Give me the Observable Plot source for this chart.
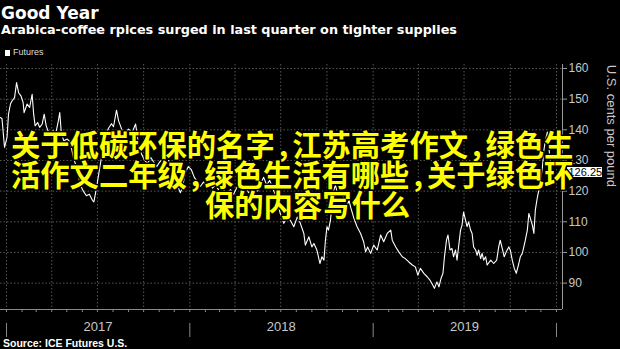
<!DOCTYPE html>
<html><head><meta charset="utf-8">
<script src="https://cdn.jsdelivr.net/npm/d3@7"></script>
<script src="https://cdn.jsdelivr.net/npm/@observablehq/plot@0.6"></script>
<style>
html,body{margin:0;padding:0;background:#000;}
#wrap{position:relative;width:620px;height:349px;overflow:hidden;background:#000;}
#chart{position:absolute;left:0;top:0;}
.t{position:absolute;white-space:nowrap;line-height:1;color:#fff;}
#title{left:1px;top:5px;font-family:"DejaVu Sans";font-weight:bold;font-size:17px;}
#subtitle{left:1px;top:24.3px;font-family:"DejaVu Sans";font-weight:bold;font-size:12.8px;}
#legsq{position:absolute;left:5px;top:49.5px;width:5px;height:6px;background:#fff;}
#legend{left:13px;top:48px;font-family:"Liberation Sans";font-size:9px;color:#ddd;}
#source{left:3px;top:338px;font-family:"Liberation Sans";font-weight:bold;font-size:10.5px;}
#overlay{position:absolute;left:0;top:0;pointer-events:none;}
</style>
</head>
<body>
<div id="wrap">
  <div id="chart"></div>
  <div class="t" id="title">Good Year</div>
  <div class="t" id="subtitle">Arabica-coffee rpices surged in last quarter on tighter supplies</div>
  <div id="legsq"></div>
  <div class="t" id="legend">Futures</div>
  <div class="t" id="source">Source: ICE Futures U.S.</div>
  <svg id="overlay" width="620" height="349">
    <g font-family="'Noto Sans CJK SC'" font-size="29.3" font-weight="700" fill="#ffff00" stroke="#000" stroke-width="3" paint-order="stroke" stroke-linejoin="round">
      <text x="11" y="156">关于低碳环保的名字<tspan dx="4">,</tspan><tspan dx="4">江苏高考作文</tspan><tspan dx="4">,</tspan><tspan dx="4">绿色生</tspan></text>
      <text x="11" y="186">活作文二年级<tspan dx="4">,</tspan><tspan dx="4">绿色生活有哪些</tspan><tspan dx="4">,</tspan><tspan dx="4">关于绿色环</tspan></text>
      <text x="205" y="216">保的内容写什么</text>
    </g>
  </svg>
</div>
<script>
const dates = [
"2016-12-20","2016-12-23","2016-12-28","2017-01-02","2017-01-05","2017-01-09","2017-01-12","2017-01-17","2017-01-21","2017-01-25",
"2017-01-30","2017-02-03","2017-02-05","2017-02-11","2017-02-16","2017-02-21","2017-02-24","2017-02-27","2017-03-04","2017-03-08",
"2017-03-13","2017-03-17","2017-03-21","2017-03-26","2017-03-29","2017-04-04","2017-04-08","2017-04-13","2017-04-17","2017-04-20",
"2017-04-25","2017-05-02","2017-05-08","2017-05-14","2017-05-20","2017-05-28","2017-06-03","2017-06-09","2017-06-15","2017-06-21",
"2017-06-24","2017-06-29","2017-07-05","2017-07-11","2017-07-17","2017-07-23","2017-07-29","2017-08-02","2017-08-08","2017-08-12",
"2017-08-17","2017-08-22","2017-08-26","2017-09-01","2017-09-08","2017-09-15","2017-09-21","2017-09-27","2017-10-03","2017-10-09",
"2017-10-15","2017-10-21","2017-10-27","2017-11-02","2017-11-08","2017-11-14","2017-11-20","2017-11-26","2017-12-01","2017-12-07",
"2017-12-13","2017-12-17","2017-12-23","2017-12-29",
"2018-01-04","2018-01-10","2018-01-16","2018-01-22","2018-01-28","2018-02-03","2018-02-09","2018-02-15","2018-02-21","2018-02-27",
"2018-03-05","2018-03-11","2018-03-17","2018-03-23","2018-03-29","2018-04-04","2018-04-10","2018-04-16","2018-04-22","2018-04-28",
"2018-05-04","2018-05-10","2018-05-16","2018-05-22","2018-05-28","2018-06-03","2018-06-09","2018-06-15","2018-06-21","2018-06-25",
"2018-06-30","2018-07-07","2018-07-14","2018-07-20","2018-07-27","2018-08-03","2018-08-09","2018-08-16","2018-08-19","2018-08-26",
"2018-09-01","2018-09-05","2018-09-11","2018-09-17","2018-09-21","2018-09-25","2018-09-28","2018-10-01","2018-10-04","2018-10-08",
"2018-10-11","2018-10-14","2018-10-18","2018-10-22","2018-10-28","2018-11-03","2018-11-09","2018-11-14","2018-11-17","2018-11-23",
"2018-11-30","2018-12-07","2018-12-13","2018-12-17","2018-12-21","2018-12-27",
"2019-01-02","2019-01-09","2019-01-16","2019-01-22","2019-01-29","2019-02-05","2019-02-08","2019-02-15","2019-02-21","2019-02-28",
"2019-03-06","2019-03-13","2019-03-20","2019-03-26","2019-03-31","2019-04-05","2019-04-12","2019-04-19","2019-04-24","2019-04-28",
"2019-05-03","2019-05-08","2019-05-12","2019-05-16","2019-05-20","2019-05-23","2019-05-27","2019-05-30","2019-06-03","2019-06-07",
"2019-06-10","2019-06-14","2019-06-17","2019-06-20","2019-06-24","2019-06-27","2019-06-30","2019-07-04","2019-07-07","2019-07-10",
"2019-07-14","2019-07-17","2019-07-20","2019-07-24","2019-07-27","2019-07-30","2019-08-03","2019-08-06","2019-08-09","2019-08-13",
"2019-08-16","2019-08-23","2019-08-29","2019-09-04","2019-09-08","2019-09-11","2019-09-15","2019-09-19","2019-09-23","2019-09-28",
"2019-10-01","2019-10-05","2019-10-09","2019-10-13","2019-10-18","2019-10-21","2019-10-25","2019-10-28","2019-10-31","2019-11-04",
"2019-11-07","2019-11-10","2019-11-14","2019-11-17","2019-11-20","2019-11-24","2019-11-27","2019-11-30","2019-12-04","2019-12-07",
"2019-12-10","2019-12-14","2019-12-16","2019-12-18","2019-12-20","2019-12-22"
];
const prices = [
144.0,143.6,134.3,137.5,145.2,148.5,149.4,150.5,155.4,152.1,
151.0,148.9,145.6,148.4,147.3,151.6,145.1,141.3,142.4,140.8,
141.9,145.1,141.3,139.1,138.6,139.7,138.1,141.9,145.6,139.1,
136.4,137.0,136.0,131.0,128.0,122.0,120.0,118.5,119.0,117.0,
116.5,121.0,127.0,133.0,138.0,140.5,142.0,141.0,146.4,143.0,
140.8,138.0,139.1,140.2,139.1,141.9,135.0,132.0,130.0,129.0,
131.0,129.5,128.0,129.5,130.5,128.5,130.0,127.5,125.0,122.0,
119.5,121.0,126.0,128.0,
127.0,124.5,123.0,121.5,123.0,121.5,122.5,121.0,122.0,120.5,
121.5,120.0,119.5,120.5,119.0,121.0,122.5,120.5,121.5,119.5,
120.0,121.5,120.0,122.5,124.5,122.0,123.5,121.0,118.5,116.0,
112.7,109.5,111.6,110.5,108.4,111.6,109.5,106.2,102.4,105.1,
101.8,102.9,100.8,96.4,98.6,97.5,104.0,108.4,107.3,110.5,
116.0,120.0,122.0,119.0,120.5,118.0,115.0,117.0,114.9,111.5,
108.4,106.2,103.5,100.2,101.8,99.7,
102.4,100.8,105.7,103.5,106.2,107.3,104.0,101.8,100.2,98.6,
98.0,96.9,95.9,95.3,92.6,94.8,93.2,92.0,91.0,89.9,
88.3,90.4,88.8,91.5,93.2,98.6,104.0,105.7,100.8,101.3,
98.6,100.8,97.5,101.8,107.3,108.9,113.2,110.5,108.4,110.0,
107.3,106.2,101.8,100.8,99.1,100.8,98.0,99.7,97.5,98.6,
95.9,97.5,96.4,97.5,101.8,104.0,101.3,98.6,100.2,101.8,
100.8,97.5,94.8,93.2,96.4,98.6,99.7,101.8,104.0,107.3,
112.7,111.1,108.9,106.2,114.0,118.0,120.5,123.0,127.8,133.4,
136.6,139.3,135.6,132.4,130.0,126.25
];
const yTicks = [90, 100, 110, 120, 130, 140, 150, 160];
const yearLabels = ["2017", "2018", "2019"];
const yearMids = ["2017-07-02", "2018-07-02", "2019-07-02"];
const yearBounds = ["2017-01-01", "2018-01-01", "2019-01-01", "2020-01-01"];
const xDomain = ["2016-12-20", "2020-01-13"];
const yDomain = [81.4, 161.3];
const axisTitle = "U.S. cents per pound";

const data = dates.map((d, i) => ({date: new Date(d), price: prices[i]}));
const x0 = new Date(xDomain[0]), x1 = new Date(xDomain[1]);
const quarters = d3.utcMonth.every(3).range(new Date(yearBounds[0]), new Date("2020-01-02"));
const months = d3.utcMonth.range(new Date(yearBounds[0]), new Date("2020-01-02"));
const last = prices[prices.length - 1];
const grid = "#575757";
const narrow = "'Liberation Sans Narrow', 'Arial Narrow', 'Liberation Sans', sans-serif";

const chart = Plot.plot({
  width: 620, height: 349,
  marginTop: 64, marginBottom: 40, marginLeft: 0, marginRight: 58,
  style: {background: "transparent", color: "#c8c8c8", fontFamily: narrow, fontSize: "12px"},
  x: {type: "utc", domain: [x0, x1], axis: null, label: null},
  y: {domain: yDomain, axis: null, label: null},
  marks: [
    Plot.ruleY(yTicks, {stroke: grid, strokeDasharray: "1.5,2"}),
    Plot.ruleX(quarters, {stroke: grid, strokeDasharray: "1.5,2"}),
    Plot.line(data, {x: "date", y: "price", stroke: "#ffffff", strokeWidth: 1.1}),
    Plot.ruleX([x1], {stroke: "#9a9a9a"}),
    Plot.ruleY([yDomain[0]], {stroke: "#8a8a8a"}),
    Plot.axisY(yTicks, {anchor: "right", label: null, tickSize: 4, tickPadding: 2, stroke: "#9a9a9a", fill: "#c8c8c8", fontSize: 12}),
    Plot.axisX(months, {anchor: "bottom", label: null, tickSize: 3, tickFormat: () => "", stroke: "#8a8a8a"}),
    Plot.ruleX(yearBounds.map(d => new Date(d)), {stroke: "#8a8a8a", dy: 28, insetTop: 231}),
    Plot.text(yearLabels, {x: (d, i) => new Date(yearMids[i]), frameAnchor: "bottom", dy: 21, fontSize: 13, fill: "#c8c8c8"}),
    Plot.ruleY([last], {stroke: "#ffffff", strokeWidth: 10, dx: 40, insetLeft: 527}),
    Plot.text([last], {y: d => d, text: d => d.toFixed(2), frameAnchor: "right", dx: 6, textAnchor: "start", fill: "#000", fontSize: 11}),
    Plot.text([axisTitle], {frameAnchor: "right", dx: 49, rotate: 90, fontSize: 13, fontFamily: "'Liberation Sans', sans-serif", fill: "#c8c8c8"})
  ]
});
document.getElementById("chart").append(chart);
</script>
</body></html>
